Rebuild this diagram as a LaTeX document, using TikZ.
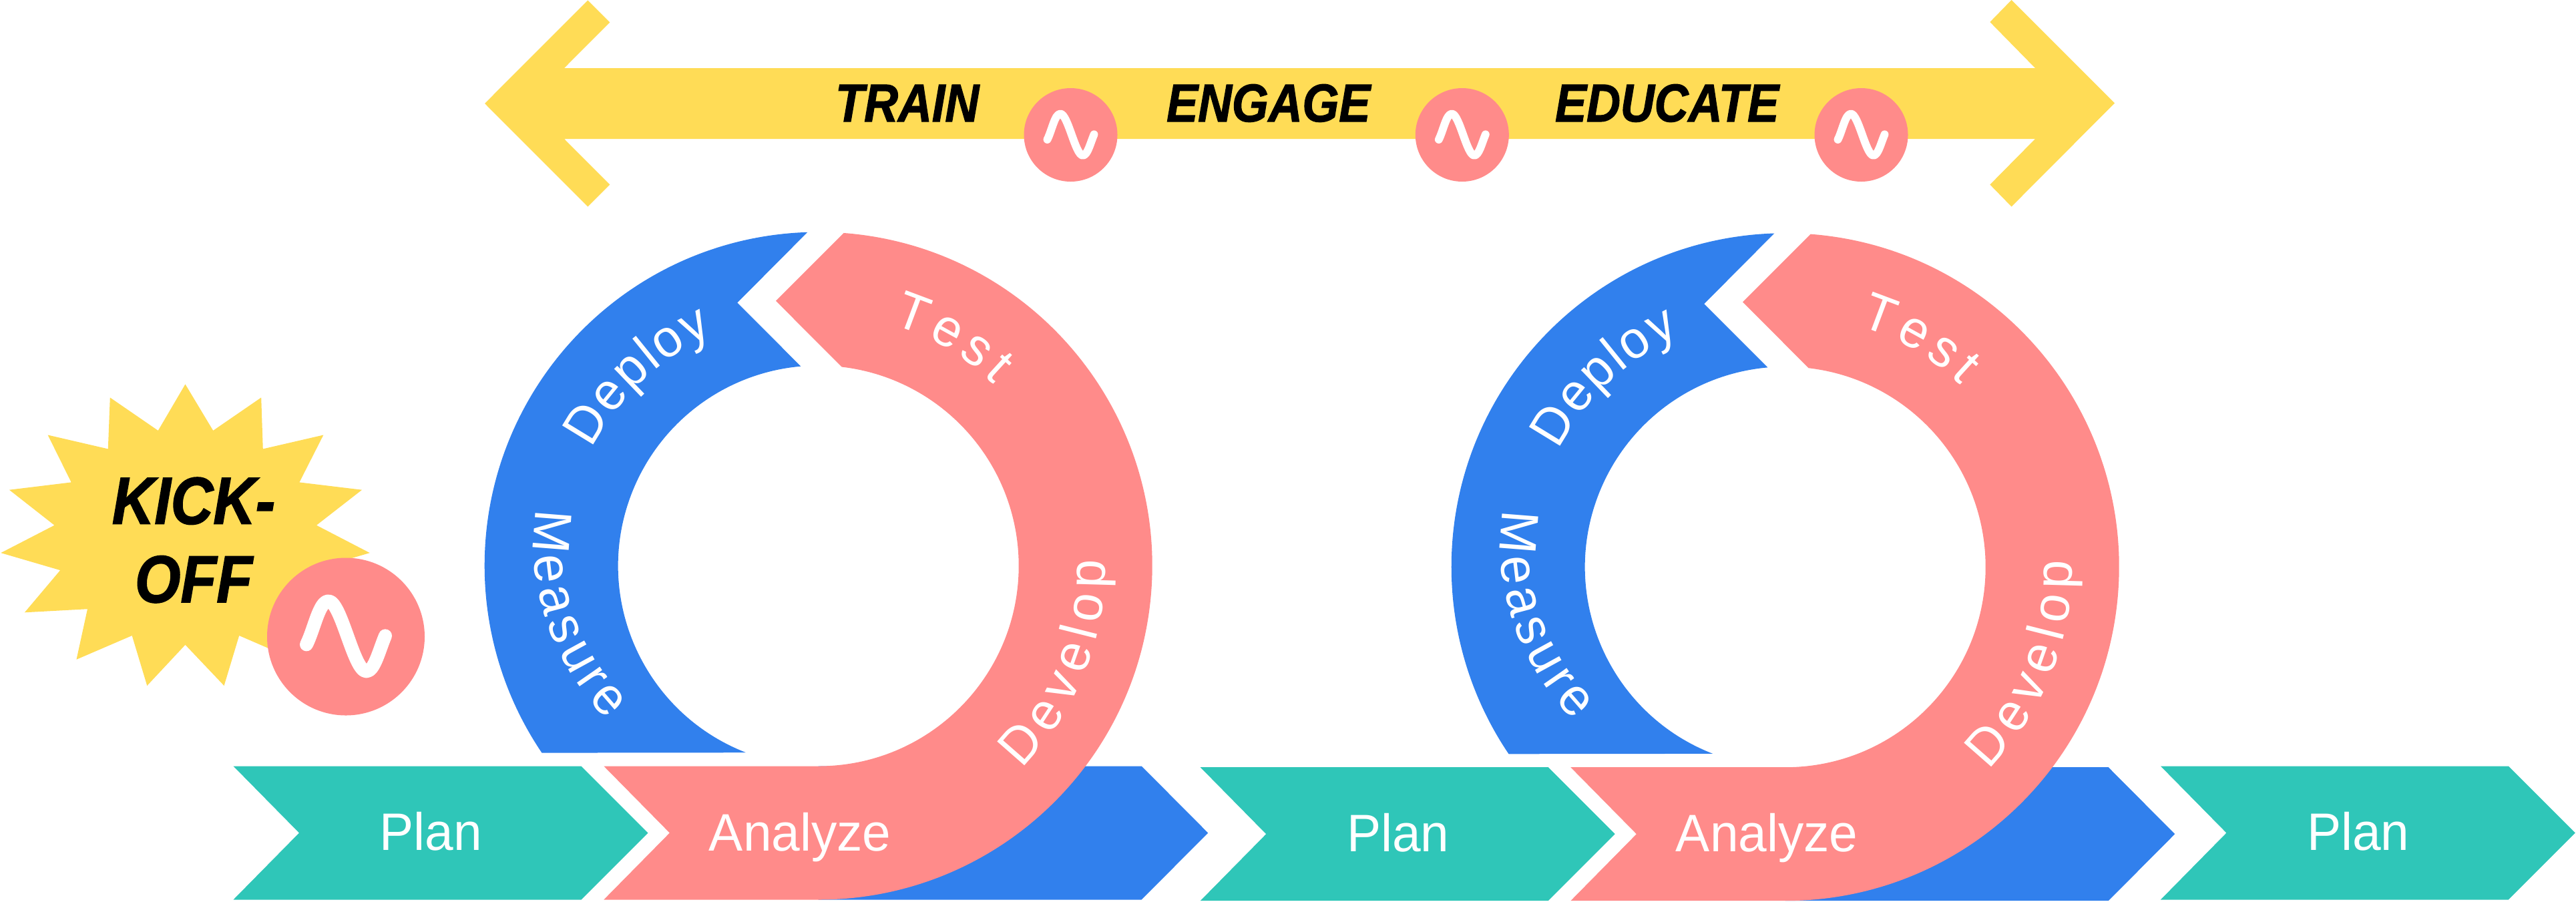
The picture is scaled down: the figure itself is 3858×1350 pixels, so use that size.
\documentclass[tikz,border=0pt]{standalone}
\usepackage{fontspec}
\usetikzlibrary{decorations.text}
\setmainfont{Liberation Sans}[FakeStretch=0.97]
\newfontfamily\heavyfont{Liberation Sans Bold Italic}[FakeStretch=0.88,FakeBold=1.5]
\newcommand{\labelfnt}{\fontsize{39.5}{47}\selectfont}
\definecolor{cyellow}{HTML}{FFDC56}
\definecolor{cpink}{HTML}{FF8B8A}
\definecolor{cblue}{HTML}{3180ED}
\definecolor{cteal}{HTML}{2FC6B8}
\tikzset{
  dotnode/.style={circle,fill=cpink,inner sep=0pt,outer sep=0pt},
  wavepen/.style={draw=white,line cap=round,line join=round},
  steplabel/.style={text=white,font=\labelfnt,anchor=base,inner sep=0pt},
  toplabel/.style={text=black,font=\heavyfont\fontsize{40}{48}\selectfont,anchor=base,inner sep=0pt},
  arclabel/.style={decorate,decoration={text along path,text align={fit to path},text={|\labelfnt\color{white}|#1}}}
}
\newcommand{\wavedot}[4]{%
  \node[dotnode,minimum size=#4 pt] (#1) at (#2,#3) {};
  \begin{scope}[shift={(#1.center)},scale=#4/100]
    \draw[wavepen,line width=0.085*#4 pt] (-50,10) .. controls (-40,-10) and (-34,-45) .. (-22,-45)
      .. controls (-6,-45) and (10,44) .. (26,44)
      .. controls (36,44) and (42,18) .. (50,-1);
  \end{scope}}
\newcommand{\planshape}[3]{%
  \fill[cteal] (#2,#3) -- (#2+521,#3) -- (#2+621,#3+100) -- (#2+521,#3+200) -- (#2,#3+200) -- (#2+98.5,#3+100) -- cycle;
  \node[steplabel] (#1) at (#2+296,#3+126) {Plan};}
\newcommand{\cycleloop}[3]{%
  \begin{scope}[shift={(#2,#3)}]
    \fill[cblue] (0,300) -- (484,300) -- (583.5,400) -- (484,500) -- (0,500) -- cycle;
    \fill[cblue] (91.88:250pt) arc[start angle=91.88,end angle=214.07,radius=250pt]
      -- (248.8:150pt) arc[start angle=248.8,end angle=95.04,radius=150pt]
      -- (-121.4,-394.1) -- cycle;
    \fill[cpink] (85.65:250pt) arc[start angle=85.65,end angle=-90,radius=250pt]
      -- (-321.4,500) -- (-222.8,400) -- (-321.4,300) -- (0,300)
      arc[start angle=-90,end angle=83.31,radius=150pt]
      -- (-63.7,-396.8) -- cycle;
    \node[steplabel] (analyze#1) at (-27.5,426.5) {Analyze};
    \path[arclabel=Deploy] (152.7:191pt) arc[start angle=152.7,end angle=114.5,radius=191pt];
    \path[arclabel=Measure] (-421.5,-85) .. controls (-443.5,23.8) and (-394.7,151.6) .. (-317,230.4);
    \path[arclabel=Test] (73:189pt) arc[start angle=73,end angle=46,radius=189pt];
    \path[arclabel=Develop] (-44.9:215pt) arc[start angle=-44.9,end angle=1.2,radius=215pt];
  \end{scope}}
\begin{document}
\begin{tikzpicture}[x=0.5pt,y=-0.5pt]
\useasboundingbox (0,0) rectangle (3858,1350);
% top double arrow
\fill[cyellow] (726,155) -- (880.3,0.5) -- (913.3,33.5) -- (845,102) -- (3048,102) -- (2980.3,33) -- (3012.5,0) -- (3167,154.5)
  -- (3012.5,309.5) -- (2980.3,276.5) -- (3048,208) -- (845,208) -- (913.3,276.5) -- (880.3,309.5) -- cycle;
\node[toplabel] (train) at (1358.7,182) {TRAIN};
\node[toplabel] (engage) at (1899.7,182) {ENGAGE};
\node[toplabel] (educate) at (2496.6,182) {EDUCATE};
\wavedot{dota}{1603.5}{202}{70}
\wavedot{dotb}{2189.8}{202}{70}
\wavedot{dotc}{2787.5}{202}{70}
% kick-off star
\fill[cyellow] (277.5,575.5) -- (319.2,644.9) -- (391.2,595.4) -- (393.8,672.4) -- (484.4,651.5) -- (448.4,722.4)
  -- (542.1,733.7) -- (474,786.7) -- (553.8,828.1) -- (464.9,854.1) -- (518.2,917.3) -- (424.1,912.2)
  -- (441,987.8) -- (358.2,952) -- (335.6,1027) -- (277.5,965.8) -- (220.3,1027) -- (197.7,952)
  -- (114.5,987.8) -- (131,912.2) -- (36.9,917.3) -- (90.2,854.1) -- (1.3,828.1) -- (81.5,786.7)
  -- (13.9,733.7) -- (106.7,722.4) -- (71.6,651.5) -- (161.8,672.4) -- (164.8,595.4) -- (236.8,644.9) -- cycle;
\node[text=black,font=\heavyfont\fontsize{50}{58.7}\selectfont,align=center,inner sep=0pt] (kick) at (290,809) {KICK-\\OFF};
\wavedot{dotd}{518}{953.5}{118}
% cycles
\cycleloop{a}{1225.7}{847.5}
\cycleloop{b}{2673.7}{849.2}
% plans
\planshape{plana}{349.5}{1147.5}
\planshape{planb}{1797.7}{1149.2}
\planshape{planc}{3235.9}{1147.5}
\end{tikzpicture}
\end{document}
